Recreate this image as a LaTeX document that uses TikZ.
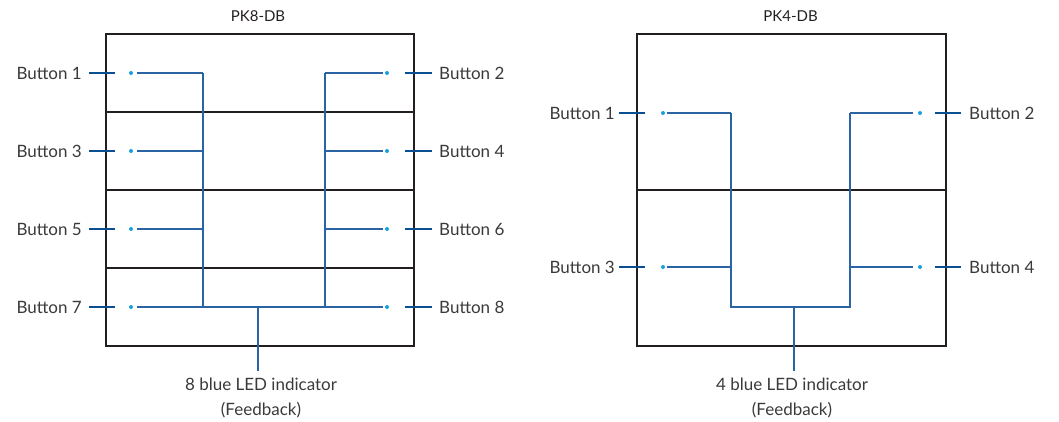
\documentclass[tikz,border=0pt]{standalone}
\usepackage{fontspec}
\setmainfont{Lato}
\newfontfamily\titlefont{Lato}
\definecolor{boxc}{HTML}{231F20}
\definecolor{wirec}{HTML}{2A64A4}
\definecolor{leadc}{HTML}{0A4F8F}
\definecolor{ledc}{HTML}{1AA0E0}
\definecolor{txtc}{HTML}{3A3A3A}
\tikzset{
  panel/.style={draw=boxc, line width=2pt},
  divider/.style={draw=boxc, line width=2pt},
  wire/.style={draw=wirec, line width=1.2pt},
  leader/.style={draw=leadc, line width=1.2pt},
  lbl/.style={text=txtc, font=\fontsize{17}{25}\selectfont, inner sep=0pt},
  ttl/.style={text=boxc, font=\titlefont\fontsize{15}{18}\selectfont, inner sep=0pt},
  led/.style={circle, fill=ledc, inner sep=0pt, minimum size=4pt},
}
\begin{document}
\begin{tikzpicture}[x=1pt,y=-1pt]
\useasboundingbox (0,0) rectangle (1059,422);

% ---------------- PK8-DB ----------------
\node[ttl] (t8) at (258,16) {PK8-DB};
\draw[panel] (106,34) rectangle (414,346);
\foreach \y in {112,190,268} \draw[divider] (106,\y) -- (414,\y);

% LEDs
\foreach \i/\y in {1/73,3/151,5/229,7/307} {
  \node[led] (d\i) at (131,\y) {};
}
\foreach \i/\y in {2/73,4/151,6/229,8/307} {
  \node[led] (d\i) at (387,\y) {};
}
% labels
\foreach \i/\y in {1/73,3/151,5/229,7/307} {
  \node[lbl, anchor=east] (b\i) at (82,\y) {Button \i};
  \coordinate (ls\i) at (89,\y);
  \coordinate (le\i) at (115,\y);
  \draw[leader] (ls\i) -- (le\i);
}
\foreach \i/\y in {2/73,4/151,6/229,8/307} {
  \node[lbl, anchor=west] (b\i) at (439,\y) {Button \i};
  \coordinate (ls\i) at (432,\y);
  \coordinate (le\i) at (405,\y);
  \draw[leader] (ls\i) -- (le\i);
}
% bus wiring
\coordinate (busL) at (203,73);
\coordinate (busR) at (325,73);
\foreach \i/\y in {1/73,3/151,5/229} {
  \draw[wire] (137,\y) -- (203,\y);
}
\foreach \i/\y in {2/73,4/151,6/229} {
  \draw[wire] (383,\y) -- (325,\y);
}
\draw[wire] (137,307) -- (383,307);
\draw[wire] (busL) -- (203,307);
\draw[wire] (busR) -- (325,307);
\coordinate (stem8) at (258,307);
\node[lbl, align=center] (f8) at (261,398) {8 blue LED indicator\\(Feedback)};
\draw[wire] (stem8) -- (258,371);

% ---------------- PK4-DB ----------------
\node[ttl] (t4) at (790.5,16) {PK4-DB};
\draw[panel] (637,34) rectangle (946,346);
\draw[divider] (637,190) -- (946,190);

\node[led] (e1) at (663,113) {};
\node[led] (e3) at (663,267) {};
\node[led] (e2) at (920,113) {};
\node[led] (e4) at (920,267) {};

\foreach \i/\y in {1/113,3/267} {
  \node[lbl, anchor=east] (c\i) at (615,\y) {Button \i};
  \draw[leader] (619,\y) -- (645,\y);
  \draw[wire] (667,\y) -- (731,\y);
}
\foreach \i/\y in {2/113,4/267} {
  \node[lbl, anchor=west] (c\i) at (969,\y) {Button \i};
  \draw[leader] (961,\y) -- (935,\y);
  \draw[wire] (913,\y) -- (850,\y);
}
\draw[wire] (731,113) -- (731,307) -- (850,307) -- (850,113);
\node[lbl, align=center] (f4) at (792,398) {4 blue LED indicator\\(Feedback)};
\draw[wire] (794,307) -- (794,371);
\end{tikzpicture}
\end{document}
